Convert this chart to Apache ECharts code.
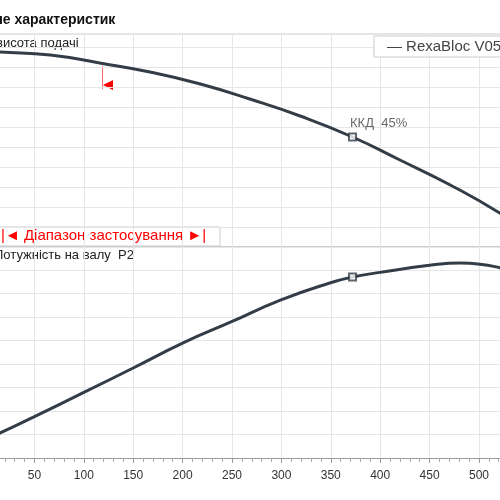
<!DOCTYPE html><html><head><meta charset="utf-8"><script src="https://cdn.jsdelivr.net/npm/echarts@6/dist/echarts.min.js"></script>
<style>body{margin:0}#c{width:500px;height:500px}</style></head><body><div id="c"></div><script>
const headX=[0,15,66,116,167,218,268,319,372,420,471,521,540];
const headY=[9.8,9.75,9.6,9.2,8.75,8.15,7.4,6.55,5.5,4.35,3.1,1.7,1.0];
const powX=[0,15,49,99,150,200,249,299,349,372,400,450,481,501,521,540];
const powY=[0.75,1.06,1.74,2.77,3.83,4.89,5.79,6.72,7.45,7.7,7.9,8.2,8.3,8.25,8.1,7.9];
const dutyX=372, dutyHead=5.5, dutyPow=7.7;
const xTicks=[50,100,150,200,250,300,350,400,450,500];
const c=echarts.init(document.getElementById('c'));
const ax=(i,show)=>({gridIndex:i,type:'value',min:0,max:540,interval:50,
 axisLine:{show:show,onZero:false,lineStyle:{color:'#999'}},
 axisTick:{show:show,lineStyle:{color:'#999'}},
 minorTick:{show:show,splitNumber:5,length:4,lineStyle:{color:'#aaa'}},
 axisLabel:{show:show,color:'#333',fontSize:12,fontFamily:'Liberation Sans',margin:12,
   formatter:v=>xTicks.includes(v)?String(v):''},
 splitLine:{show:true,lineStyle:{color:'#e6e6e6'}}});
const ay=(i,max)=>({gridIndex:i,type:'value',min:0,max:max,interval:1,axisLabel:{show:false},axisTick:{show:false},axisLine:{show:false},
 splitLine:{lineStyle:{color:'#e6e6e6'}}});
c.setOption({animation:false,
 grid:[{left:-15,top:34,width:533.5,height:213,containLabel:false,outerBoundsMode:'none'},{left:-15,top:247,width:533.5,height:211,containLabel:false,outerBoundsMode:'none'}],
 xAxis:[ax(0,false),ax(1,true)],
 yAxis:[ay(0,10.65),ay(1,8.98)],
 legend:{right:-30,top:36,data:[{name:'RexaBloc V05.22',icon:'none'}],formatter:'— {name}',backgroundColor:'#fff',borderColor:'#ccc',borderWidth:1,borderRadius:0,padding:[3,8],textStyle:{fontSize:15,color:'#444',fontFamily:'Liberation Sans'},itemWidth:0},
 series:[
  {name:'RexaBloc V05.22',type:'line',xAxisIndex:0,yAxisIndex:0,smooth:true,symbol:'none',data:headX.map((x,i)=>[x,headY[i]]),lineStyle:{color:'#333d47',width:3},itemStyle:{color:'#333d47'}},
  {type:'line',xAxisIndex:1,yAxisIndex:1,smooth:true,symbol:'none',data:powX.map((x,i)=>[x,powY[i]]),lineStyle:{color:'#333d47',width:3}},
  {type:'scatter',xAxisIndex:0,yAxisIndex:0,symbol:'rect',symbolSize:7,data:[[dutyX,dutyHead]],itemStyle:{color:'#fff',borderColor:'#333d47',borderWidth:2},
   label:{show:true,position:[2,-16],formatter:'ККД  45%',color:'#444',fontSize:13,fontFamily:'Liberation Sans'},z:5},
  {type:'scatter',xAxisIndex:1,yAxisIndex:1,symbol:'rect',symbolSize:7,data:[[dutyX,dutyPow]],itemStyle:{color:'#fff',borderColor:'#333d47',borderWidth:2},z:5}
 ],
 graphic:[
  {type:'line',shape:{x1:0,y1:34,x2:500,y2:34},style:{stroke:'#ccc',lineWidth:1}},
  {type:'line',shape:{x1:0,y1:247,x2:500,y2:247},style:{stroke:'#999',lineWidth:1}},
  {type:'text',left:-6,top:13,style:{text:'ле характеристик',font:'bold 14px Liberation Sans',fill:'#111'}},
  {type:'text',left:-4,top:37,style:{text:'висота подачі',font:'13px Liberation Sans',fill:'#222'}},
  {type:'text',left:-6,top:249,style:{text:'Потужність на валу  P2',font:'13px Liberation Sans',fill:'#222'}},
  {type:'line',shape:{x1:102.5,y1:66,x2:102.5,y2:89},style:{stroke:'#f66',lineWidth:1}},
  {type:'polygon',shape:{points:[[103,85],[113,80],[113,90]]},style:{fill:'#f00'}},
  {type:'rect',shape:{x:-2,y:227,width:222,height:19},style:{fill:'#fff',stroke:'#ccc',lineWidth:1}},
  {type:'text',left:1,top:228,style:{text:'|◄ Діапазон застосування ►|',font:'15px Liberation Sans',fill:'#f00'}}
 ]});
</script></body></html>
